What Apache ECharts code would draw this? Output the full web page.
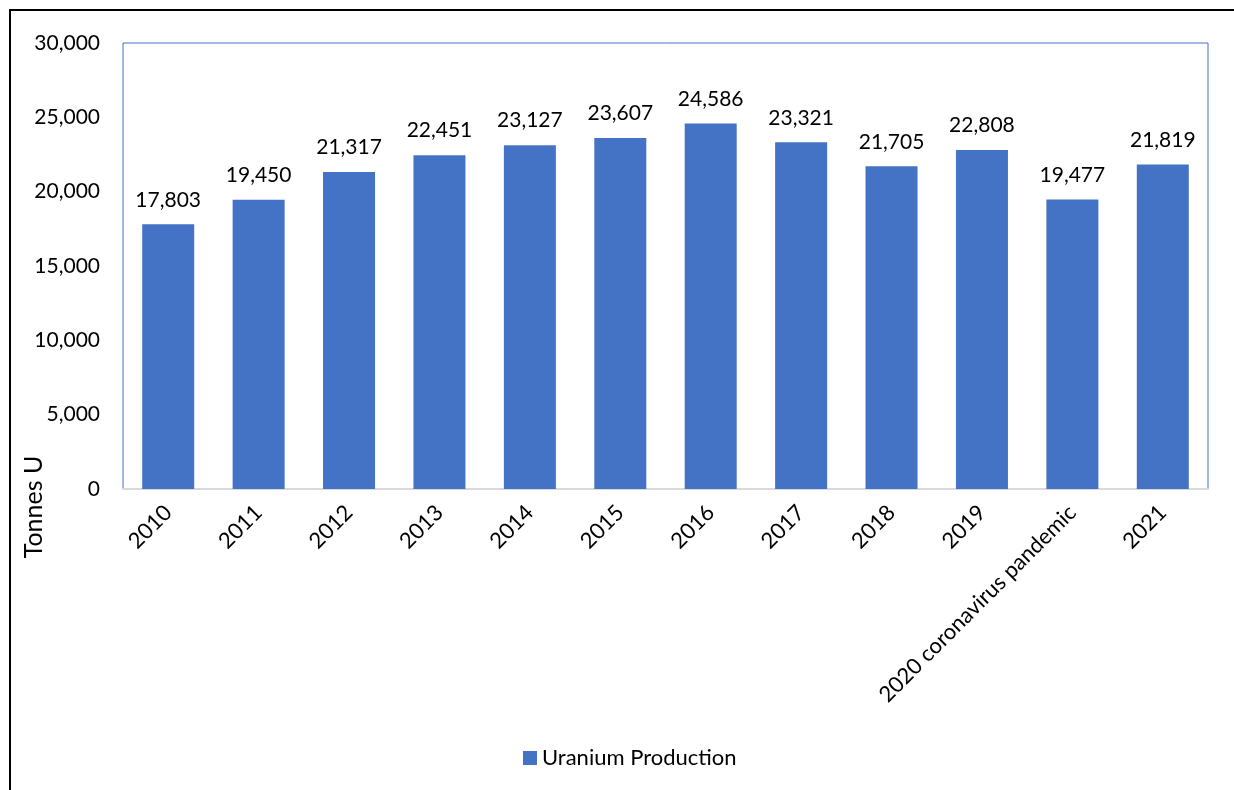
<!DOCTYPE html>
<html>
<head>
<meta charset="utf-8">
<script src="https://cdn.jsdelivr.net/npm/echarts@6/dist/echarts.min.js"></script>
<style>
  html, body { margin: 0; padding: 0; background: #ffffff; }
  #chart { width: 1234px; height: 790px; }
</style>
</head>
<body>
<div id="chart"></div>
<script>
// Annual uranium production, tonnes U
const categories = ['2010', '2011', '2012', '2013', '2014', '2015', '2016', '2017', '2018', '2019', '2020 coronavirus pandemic', '2021'];
const production = [17803, 19450, 21317, 22451, 23127, 23607, 24586, 23321, 21705, 22808, 19477, 21819];
const seriesName = 'Uranium Production';
const axisTitle = 'Tonnes U';

const FONT = 'Lato, "Open Sans", sans-serif';
const BLUE = '#4472C4';

const chart = echarts.init(document.getElementById('chart'));
chart.setOption({
  animation: false,
  backgroundColor: '#ffffff',
  textStyle: { fontFamily: FONT, color: '#000' },
  grid: {
    left: 123, right: 26, top: 43, bottom: 301,
    show: true, borderColor: BLUE, borderWidth: 1, backgroundColor: 'transparent'
  },
  legend: {
    data: [seriesName],
    bottom: 16,
    left: 518,
    itemWidth: 14, itemHeight: 14, itemGap: 6,
    icon: 'rect',
    textStyle: { fontFamily: FONT, fontSize: 22, color: '#000' }
  },
  xAxis: {
    type: 'category',
    data: categories,
    axisLine: { show: true, lineStyle: { color: '#d9d9d9', width: 2 } },
    axisTick: { show: false },
    axisLabel: {
      rotate: 45, interval: 0, margin: 20,
      fontFamily: FONT, fontSize: 22, color: '#000'
    }
  },
  yAxis: {
    type: 'value',
    min: 0, max: 30000, interval: 5000,
    axisLine: { show: false },
    axisTick: { show: false },
    splitLine: { show: false },
    axisLabel: {
      margin: 23, fontFamily: FONT, fontSize: 21, color: '#000',
      formatter: v => v.toLocaleString('en-US')
    }
  },
  series: [{
    name: seriesName,
    type: 'bar',
    data: production,
    barWidth: 52,
    itemStyle: { color: BLUE },
    label: {
      show: true, position: 'top', distance: 14,
      fontFamily: FONT, fontSize: 21, color: '#000',
      formatter: p => p.value.toLocaleString('en-US')
    }
  }],
  graphic: [
    // outer chart frame
    { type: 'line', shape: { x1: 9, y1: 10, x2: 1234, y2: 10 }, style: { stroke: '#000', lineWidth: 2 } },
    { type: 'line', shape: { x1: 10, y1: 9, x2: 10, y2: 790 }, style: { stroke: '#000', lineWidth: 2 } },
    // vertical axis title
    {
      type: 'text', x: 34, y: 507, rotation: Math.PI / 2,
      style: {
        text: axisTitle, fontFamily: FONT, fontSize: 25, fill: '#000',
        align: 'center', verticalAlign: 'middle'
      }
    }
  ]
});
</script>
</body>
</html>
